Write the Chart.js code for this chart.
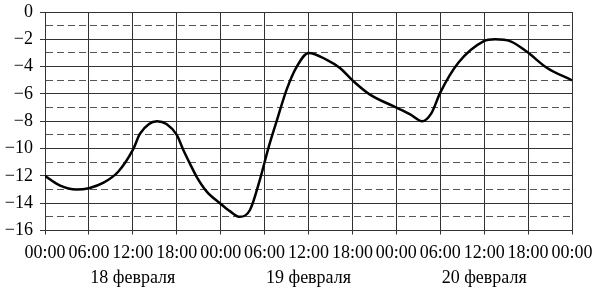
<!DOCTYPE html>
<html>
<head>
<meta charset="utf-8">
<script src="https://cdn.jsdelivr.net/npm/chart.js@4.4.1/dist/chart.umd.min.js"></script>
<style>
  html, body { margin: 0; padding: 0; background: #fff; }
</style>
</head>
<body>
<canvas id="temp-chart" width="600" height="295"></canvas>
<script>
// время в часах от 00:00 18 февраля
const hours = [0, 2, 4.3, 6, 8, 10, 12, 13, 15.3, 16.6, 18, 18.9, 19.8, 20.7, 22.1, 23.9, 25.3, 26.6, 28, 29.4, 30.5, 31.7, 33, 34.4, 36, 38.5, 40.3, 42.1, 44.4, 47.6, 49.9, 51.5, 52.8, 54, 56.5, 59.9, 61.5, 63.6, 65.8, 68.6, 72];
const temps = [-12, -12.7, -13, -12.9, -12.5, -11.7, -10.1, -8.9, -8, -8.2, -9.0, -10.1, -11.1, -12.05, -13.15, -14.0, -14.6, -15, -14.5, -12.2, -10.0, -7.9, -5.7, -4, -3, -3.5, -4.1, -5.05, -6.05, -6.9, -7.5, -8, -7.4, -5.9, -3.7, -2.15, -2, -2.15, -2.9, -4.1, -5];

const dayLabels = ['18 февраля', '19 февраля', '20 февраля'];
const dayCenters = [12, 36, 60];

const fontFamily = '"Liberation Serif", "Times New Roman", serif';

function formatHour(value) {
  const h = value % 24;
  return (h < 10 ? '0' + h : '' + h) + ':00';
}

const points = hours.map((h, i) => ({ x: h, y: temps[i] }));

new Chart(document.getElementById('temp-chart'), {
  type: 'line',
  data: {
    datasets: [{
      data: points,
      borderColor: '#000',
      borderWidth: 2.5,
      pointRadius: 0,
      cubicInterpolationMode: 'monotone',
      fill: false,
    }],
  },
  options: {
    responsive: false,
    animation: false,
    devicePixelRatio: 1,
    layout: { padding: { top: 12, right: 28, left: 0, bottom: 0 } },
    plugins: { legend: { display: false }, tooltip: { enabled: false } },
    scales: {
      x: {
        type: 'linear',
        min: 0,
        max: 72,
        afterFit: (scale) => {
          scale.height = 64.5;
          scale.paddingLeft = 0;
          scale.paddingRight = 0;
        },
        ticks: {
          stepSize: 6,
          maxRotation: 0,
          autoSkip: false,
          padding: 6,
          color: '#000',
          font: { family: fontFamily, size: 18, lineHeight: 1.4 },
          callback: (value) => {
            const idx = dayCenters.indexOf(value);
            if (idx >= 0) return [formatHour(value), dayLabels[idx]];
            return formatHour(value);
          },
        },
        grid: { color: '#333', lineWidth: 1, tickLength: 4, tickColor: '#333' },
        border: { color: '#333', width: 1 },
      },
      y: {
        min: -16,
        max: 0,
        afterFit: (scale) => {
          scale.width = 45;
          scale.paddingTop = 0;
          scale.paddingBottom = 0;
        },
        ticks: {
          stepSize: 1,
          autoSkip: false,
          padding: 7,
          color: '#000',
          font: { family: fontFamily, size: 18 },
          callback: (value) => {
            if (value % 2 !== 0) return '';
            return value < 0 ? '\u2212' + Math.abs(value) : '' + value;
          },
        },
        grid: {
          color: (ctx) => (ctx.tick && ctx.tick.value % 2 !== 0 ? '#555' : '#333'),
          lineWidth: 1,
          tickLength: 5,
          tickColor: (ctx) => (ctx.tick && ctx.tick.value % 2 !== 0 ? 'rgba(0,0,0,0)' : '#333'),
        },
        border: {
          color: '#333',
          width: 1,
          dash: (ctx) => (ctx.tick && ctx.tick.value % 2 !== 0 ? [7, 4] : []),
        },
      },
    },
  },
});
</script>
</body>
</html>
